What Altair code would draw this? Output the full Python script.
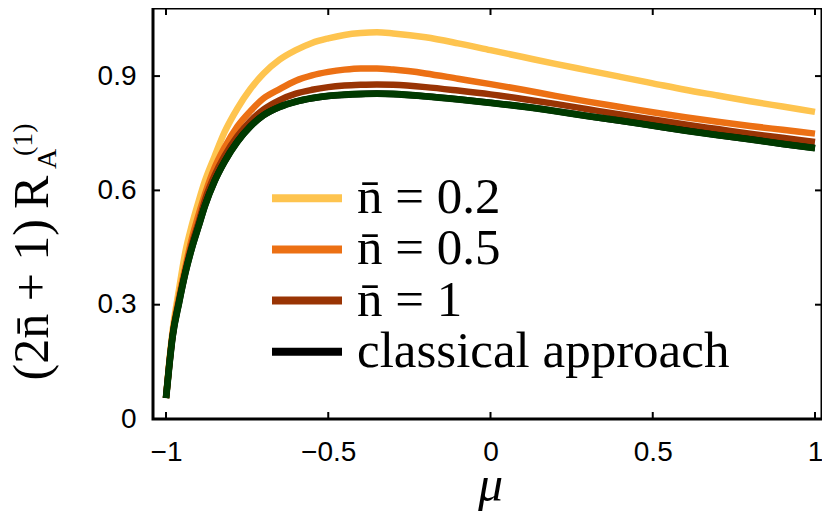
import altair as alt
import pandas as pd

# ---- data ----
mu = [-1.0, -0.99, -0.98, -0.96, -0.94, -0.92, -0.90, -0.88, -0.85, -0.82,
      -0.78, -0.74, -0.70, -0.65, -0.60, -0.55, -0.50, -0.45, -0.40, -0.35,
      -0.30, -0.20, -0.10, 0.0, 0.10, 0.20, 0.30, 0.40, 0.50, 0.60,
      0.70, 0.80, 0.90, 1.0]

n02 = [0.055, 0.15, 0.23, 0.34, 0.44, 0.51, 0.57, 0.625, 0.69, 0.752,
       0.815, 0.866, 0.906, 0.943, 0.968, 0.987, 0.999, 1.008, 1.013, 1.015,
       1.012, 1.002, 0.986, 0.968, 0.950, 0.932, 0.915, 0.898, 0.881, 0.864,
       0.849, 0.834, 0.820, 0.806]

n05 = [0.055, 0.145, 0.22, 0.32, 0.40, 0.475, 0.535, 0.59, 0.66, 0.712,
       0.768, 0.808, 0.841, 0.866, 0.888, 0.902, 0.911, 0.917, 0.920, 0.920,
       0.917, 0.907, 0.893, 0.879, 0.864, 0.848, 0.833, 0.819, 0.805, 0.792,
       0.780, 0.769, 0.759, 0.749]

n1 = [0.055, 0.142, 0.218, 0.31, 0.39, 0.46, 0.515, 0.575, 0.64, 0.69,
      0.742, 0.782, 0.812, 0.837, 0.854, 0.864, 0.871, 0.875, 0.877, 0.878,
      0.877, 0.871, 0.862, 0.852, 0.840, 0.827, 0.813, 0.799, 0.786, 0.773,
      0.761, 0.749, 0.738, 0.727]

classical = [0.055, 0.14, 0.215, 0.305, 0.385, 0.45, 0.505, 0.56, 0.625, 0.675,
             0.728, 0.768, 0.797, 0.819, 0.833, 0.842, 0.848, 0.851, 0.853, 0.854,
             0.853, 0.847, 0.839, 0.830, 0.820, 0.808, 0.795, 0.783, 0.770, 0.757,
             0.745, 0.734, 0.722, 0.711]

series_names = ["n\u0304 = 0.2", "n\u0304 = 0.5", "n\u0304 = 1", "classical approach"]
series_colors = ["#FEC44F", "#EC7014", "#993404", "#000000"]
classical_line_color = "#003A00"

x_ticks = [-1, -0.5, 0, 0.5, 1]
y_ticks = [0, 0.3, 0.6, 0.9]
y_inner_ticks = [0.3, 0.6, 0.9]

y_title = "(2n\u0304 + 1)\u2009R"
y_title_sup = ["(1)"]
y_title_sub = ["A"]
x_title = "\u03bc"

# ---- build tables ----
rows = []
for name, vals in zip(series_names, [n02, n05, n1, classical]):
    for m, v in zip(mu, vals):
        rows.append({"mu": m, "v": v, "series": name, "order": series_names.index(name)})
df = pd.DataFrame(rows)
df_classical = df[df["series"] == "classical approach"]
leg_df = pd.DataFrame({"series": series_names})

xt_df = pd.DataFrame({"mu": x_ticks})
yt_df = pd.DataFrame({"v": y_inner_ticks})

W, H = 669, 411
x_scale = alt.Scale(domain=[-1.0401, 1.0216], nice=False, zero=False)
y_scale = alt.Scale(domain=[0, 1.0787], nice=False, zero=False)
color_scale = alt.Scale(domain=series_names, range=series_colors)

x_axis = alt.Axis(values=x_ticks, title=x_title, ticks=False, tickSize=0, domain=False, grid=False,
                  labelFont="Liberation Sans", labelFontSize=28, labelColor="black",
                  labelExpr="format(datum.value, '~g')",
                  labelPadding=19, labelFlush=False, labelOverlap=False,
                  titleFont="Liberation Serif", titleFontStyle="italic", titleFontWeight="normal",
                  titleFontSize=50, titleColor="black", titleBaseline="alphabetic",
                  titleY=81, titleX=337)
y_axis = alt.Axis(values=y_ticks, title=y_title, ticks=False, tickSize=0, domain=False, grid=False,
                  labelFont="Liberation Sans", labelFontSize=28, labelColor="black",
                  labelPadding=17, labelFlush=False, labelOverlap=False,
                  labelExpr="datum.value == 0 ? '0' : format(datum.value, '.1f')",
                  titleFont="Liberation Serif", titleFontWeight="normal", titleFontSize=50,
                  titleColor="black", titleAngle=270, titleAlign="left",
                  titleBaseline="alphabetic", titleX=-106, titleY=372)

X = alt.X("mu:Q", scale=x_scale, axis=x_axis)
Y = alt.Y("v:Q", scale=y_scale, axis=y_axis)

lines = alt.Chart(df).mark_line(strokeWidth=6.5, interpolate="monotone").encode(
    x=X, y=Y,
    color=alt.Color("series:N", scale=color_scale, sort=series_names, legend=None),
    order=alt.Order("order:Q"),
)

classical_top = alt.Chart(df_classical).mark_line(strokeWidth=6.8, interpolate="monotone",
                                                  color=classical_line_color).encode(x=X, y=Y)

tick_style = dict(color="black", strokeWidth=2)
x_ticks_bottom = alt.Chart(xt_df).mark_rule(**tick_style).encode(x=X, y=alt.value(H), y2=alt.value(H - 7))
x_ticks_top = alt.Chart(xt_df).mark_rule(**tick_style).encode(x=X, y=alt.value(0), y2=alt.value(7))
y_ticks_left = alt.Chart(yt_df).mark_rule(**tick_style).encode(y=Y, x=alt.value(0), x2=alt.value(7))
y_ticks_right = alt.Chart(yt_df).mark_rule(**tick_style).encode(y=Y, x=alt.value(W), x2=alt.value(W - 7))

sup = alt.Chart(pd.DataFrame({"t": y_title_sup})).mark_text(
    font="Liberation Serif", fontSize=28, angle=270, align="left", baseline="alphabetic", color="black"
).encode(text="t:N", x=alt.value(-121), y=alt.value(148))
sub = alt.Chart(pd.DataFrame({"t": y_title_sub})).mark_text(
    font="Liberation Serif", fontSize=28, angle=270, align="left", baseline="alphabetic", color="black"
).encode(text="t:N", x=alt.value(-97), y=alt.value(161))

main = alt.layer(x_ticks_bottom, x_ticks_top, y_ticks_left, y_ticks_right,
                 lines, classical_top, sup, sub)

# legend drawn as its own layer with a point scale for the rows
LY = alt.Y("series:N", sort=series_names,
           scale=alt.Scale(type="point", domain=series_names, range=[190.3, 343.7], padding=0),
           axis=None)
leg_sym = alt.Chart(leg_df).mark_rule(strokeWidth=8).encode(
    y=LY, x=alt.value(119), x2=alt.value(189),
    color=alt.Color("series:N", scale=color_scale, legend=None),
)
leg_txt = alt.Chart(leg_df).mark_text(
    font="Liberation Serif", fontSize=51, align="left", baseline="middle", color="black"
).encode(y=LY, x=alt.value(204), text="series:N")
legend = alt.layer(leg_sym, leg_txt)

chart = alt.layer(main, legend).resolve_scale(y="independent").properties(
    width=W, height=H,
    background="white",
    autosize=alt.AutoSizeParams(type="none"),
    padding={"left": 145, "top": 0, "right": 0, "bottom": 92},
).configure_view(
    stroke="black", strokeWidth=3
)

chart.save("out.html", embed_options={"renderer": "svg", "actions": False})
